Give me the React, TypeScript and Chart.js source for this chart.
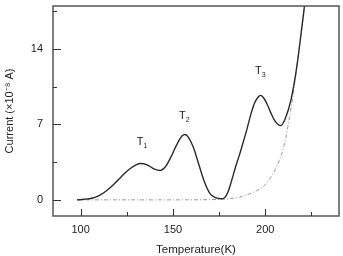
import React, { useEffect, useRef } from "react";
import { Chart, registerables } from "chart.js";

Chart.register(...registerables);

// Measured current vs temperature (solid)
const temperature = [98, 102, 106, 110, 114, 118, 122, 126, 130, 132.5, 136, 140, 143, 146, 149, 152, 155, 156.5, 158, 161, 164, 167, 170, 173, 176, 178, 180, 182, 184, 186, 188, 190, 192, 194, 196, 197.5, 199, 201, 203, 205, 207, 208.5, 211, 214, 217, 220, 222];
const current = [0, 0.05, 0.15, 0.4, 0.85, 1.45, 2.15, 2.8, 3.25, 3.38, 3.25, 2.85, 2.72, 3.1, 4.0, 5.1, 5.95, 6.07, 5.9, 4.9, 3.3, 1.7, 0.6, 0.2, 0.1, 0.2, 0.8, 1.9, 3.1, 4.15, 5.3, 6.5, 7.8, 8.9, 9.5, 9.7, 9.5, 8.9, 8.1, 7.4, 7.0, 6.9, 7.6, 9.3, 12.2, 16.2, 19];

// Background (dash-dot) current
const bgTemperature = [98, 120, 150, 170, 180, 186, 190, 194, 197, 200, 203, 206, 209, 211, 213, 215, 217, 220, 222];
const bgCurrent = [0, 0, 0, 0.02, 0.1, 0.25, 0.45, 0.75, 1.0, 1.4, 2.1, 3.0, 4.3, 5.6, 7.5, 9.6, 12.2, 16.2, 19];

const xTicks = [100, 150, 200];
const xMinorTicks = [125, 175, 225];
const yTicks = [0, 7, 14];
const yMinorTicks = [3.5, 10.5, 17.5];

// Peak annotations
const peakNames = ["1", "2", "3"];
const peakT = [132.8, 155.7, 196.8];
const peakI = [5.4, 7.8, 12.0];

const FONT = "'Liberation Sans', Arial, sans-serif";
const INK = "#222";

const framePlugin = {
  id: "frame",
  afterDatasetsDraw(chart: any) {
    const { ctx, chartArea: a, scales } = chart;
    const x = scales.x;
    const y = scales.y;
    ctx.save();
    ctx.strokeStyle = "#555";
    ctx.lineWidth = 1.5;
    ctx.strokeRect(a.left, a.top, a.right - a.left, a.bottom - a.top);
    ctx.lineWidth = 1;
    ctx.strokeStyle = "#333";
    ctx.beginPath();
    xTicks.forEach((v) => {
      const px = Math.round(x.getPixelForValue(v)) + 0.5;
      ctx.moveTo(px, a.bottom);
      ctx.lineTo(px, a.bottom - 7);
    });
    xMinorTicks.forEach((v) => {
      const px = Math.round(x.getPixelForValue(v)) + 0.5;
      ctx.moveTo(px, a.bottom);
      ctx.lineTo(px, a.bottom - 4);
    });
    yTicks.forEach((v) => {
      const py = Math.round(y.getPixelForValue(v)) + 0.5;
      ctx.moveTo(a.left, py);
      ctx.lineTo(a.left + 8, py);
    });
    yMinorTicks.forEach((v) => {
      const py = Math.round(y.getPixelForValue(v)) + 0.5;
      ctx.moveTo(a.left, py);
      ctx.lineTo(a.left + 4, py);
    });
    ctx.stroke();

    // T labels with subscripts
    ctx.fillStyle = INK;
    ctx.textBaseline = "middle";
    peakNames.forEach((n, i) => {
      const px = x.getPixelForValue(peakT[i]);
      const py = y.getPixelForValue(peakI[i]);
      ctx.font = `11px ${FONT}`;
      const w = ctx.measureText("T").width;
      ctx.textAlign = "left";
      ctx.fillText("T", px - w / 2 - 1, py);
      ctx.font = `7px ${FONT}`;
      ctx.fillText(n, px + w / 2 - 1, py + 4);
    });
    ctx.restore();
  },
};

export default function App() {
  const ref = useRef<HTMLCanvasElement | null>(null);

  useEffect(() => {
    if (!ref.current) return;
    const chart = new Chart(ref.current, {
      type: "line",
      data: {
        datasets: [
          {
            data: temperature.map((t, i) => ({ x: t, y: current[i] })),
            borderColor: "#2a2a2a",
            borderWidth: 1.4,
            pointRadius: 0,
            cubicInterpolationMode: "monotone",
            fill: false,
          },
          {
            data: bgTemperature.map((t, i) => ({ x: t, y: bgCurrent[i] })),
            borderColor: "#9a9a9a",
            borderWidth: 1,
            borderDash: [4, 2, 1, 2],
            pointRadius: 0,
            cubicInterpolationMode: "monotone",
            fill: false,
          },
        ],
      },
      options: {
        animation: false,
        responsive: true,
        maintainAspectRatio: false,
        layout: { padding: { left: 0, top: 6, right: 4, bottom: 0 } },
        plugins: { legend: { display: false }, tooltip: { enabled: false } },
        scales: {
          x: {
            type: "linear",
            min: 85,
            max: 240,
            border: { display: false },
            grid: { display: false, drawTicks: false },
            afterBuildTicks: (s: any) => {
              s.ticks = xTicks.map((v) => ({ value: v }));
            },
            afterFit: (s: any) => {
              s.height = 40;
              s.paddingLeft = 0;
              s.paddingRight = 0;
            },
            ticks: {
              padding: 7,
              color: INK,
              font: { family: FONT, size: 11 },
              maxRotation: 0,
            },
            title: {
              display: true,
              text: "Temperature(K)",
              color: INK,
              font: { family: FONT, size: 11.5 },
              padding: { top: 0, bottom: -1 },
            },
          },
          y: {
            type: "linear",
            min: -1.5,
            max: 18,
            border: { display: false },
            grid: { display: false, drawTicks: false },
            afterBuildTicks: (s: any) => {
              s.ticks = yTicks.map((v) => ({ value: v }));
            },
            afterFit: (s: any) => {
              s.width = 53;
              s.paddingTop = 0;
              s.paddingBottom = 0;
            },
            ticks: {
              padding: 10,
              color: INK,
              font: { family: FONT, size: 11 },
            },
            title: {
              display: true,
              text: "Current (×10⁻⁸ A)",
              color: INK,
              font: { family: FONT, size: 11 },
              padding: { top: 3, bottom: 0 },
            },
          },
        },
      },
      plugins: [framePlugin],
    });
    return () => chart.destroy();
  }, []);

  return (
    <div style={{ position: "fixed", left: 0, top: 0, width: 343, height: 256, background: "#fff" }}>
      <canvas ref={ref} />
    </div>
  );
}
